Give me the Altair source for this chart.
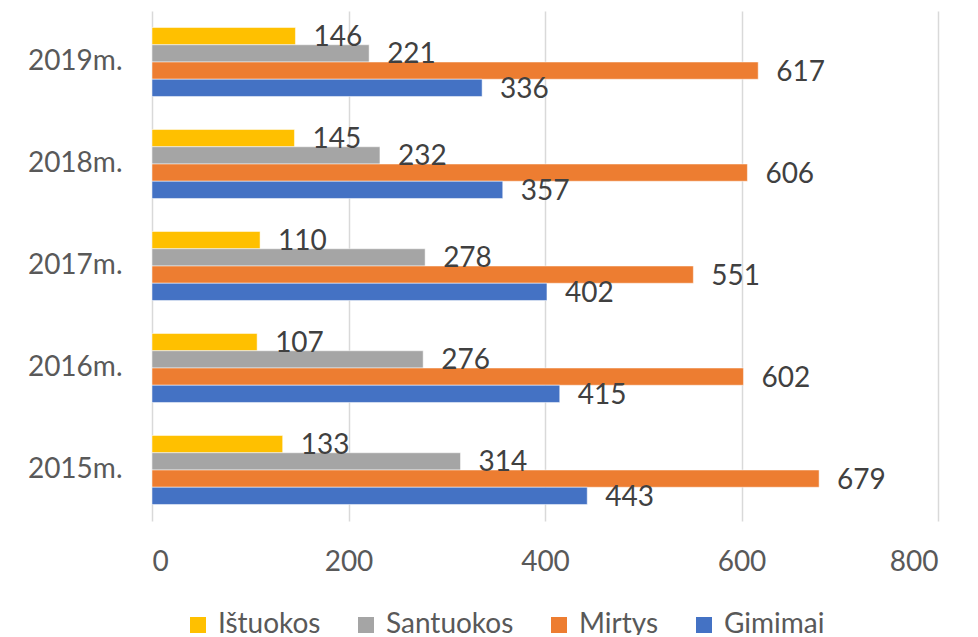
import altair as alt
import pandas as pd

years = ["2015m.", "2016m.", "2017m.", "2018m.", "2019m."]
series = ["Ištuokos", "Santuokos", "Mirtys", "Gimimai"]
istuokos = [133, 107, 110, 145, 146]
santuokos = [314, 276, 278, 232, 221]
mirtys = [679, 602, 551, 606, 617]
gimimai = [443, 415, 402, 357, 336]
colors = ["#FFC000", "#A5A5A5", "#ED7D31", "#4472C4"]
x_ticks = [0, 200, 400, 600, 800]

rows = []
for name, vals in zip(series, [istuokos, santuokos, mirtys, gimimai]):
    for yr, v in zip(years, vals):
        rows.append({"Metai": yr, "Serija": name, "Reikšmė": v})
df = pd.DataFrame(rows)

FONT = "Lato"

base = alt.Chart(df).encode(
    y=alt.Y(
        "Metai:N",
        sort=list(reversed(years)),
        title=None,
        scale=alt.Scale(paddingInner=0.324, paddingOuter=0.162),
        axis=alt.Axis(
            ticks=False, domain=False, labelFontSize=28, labelColor="#595959",
            labelFont=FONT, labelPadding=30,
        ),
    ),
    yOffset=alt.YOffset("Serija:N", sort=series, scale=alt.Scale(paddingInner=0, paddingOuter=0)),
    x=alt.X(
        "Reikšmė:Q",
        title=None,
        scale=alt.Scale(domain=[0, 800], nice=False),
        axis=alt.Axis(
            values=x_ticks, ticks=False, domain=False, grid=True, gridColor="#D9D9D9",
            gridWidth=1.5, labelFontSize=28, labelColor="#595959", labelFont=FONT,
            labelPadding=27,
        ),
    ),
)

bars = base.mark_bar(stroke="white", strokeWidth=0.5).encode(
    color=alt.Color(
        "Serija:N",
        scale=alt.Scale(domain=series, range=colors),
        legend=alt.Legend(
            title=None, orient="none", legendX=32, legendY=600, direction="horizontal",
            columns=4, symbolType="square", symbolSize=256, symbolStrokeWidth=0,
            labelFontSize=28, labelFont=FONT, labelColor="#595959",
            labelOffset=6, columnPadding=31, padding=0,
        ),
    )
)

labels = base.mark_text(
    align="left", baseline="middle", dx=18, dy=2, fontSize=28, font=FONT, color="#404040"
).encode(text="Reikšmė:Q")

chart = (
    (bars + labels)
    .properties(
        width=786, height=510,
        autosize=alt.AutoSizeParams(type="none"),
        padding={"left": 144, "top": 3, "right": 24, "bottom": 114},
    )
    .configure_view(stroke=None)
)

chart.save("out.html", embed_options={"renderer": "svg", "actions": False})
